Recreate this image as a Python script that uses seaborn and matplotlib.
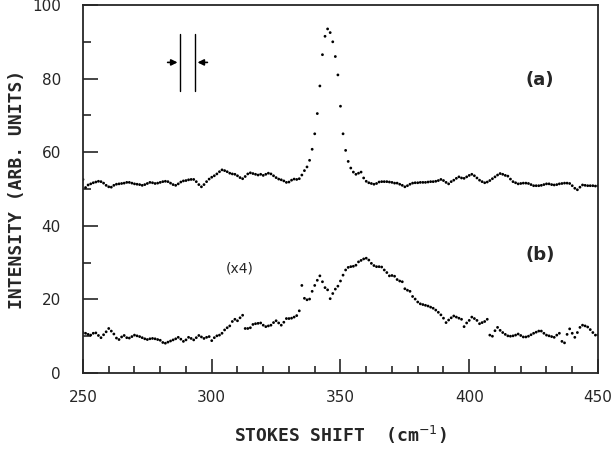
import numpy as np
import pandas as pd
import seaborn as sns
import matplotlib.pyplot as plt
from matplotlib.ticker import MultipleLocator

# Raman spectra, one reading per cm^-1 from 250 to 450
shift = np.arange(250, 451)

# trace (a)
intensity_a = [
    52.6, 50.4, 51.1, 51.4, 51.7, 51.9, 52.1, 52.0, 51.6, 51.0,
    50.6, 50.5, 51.0, 51.3, 51.4, 51.5, 51.6, 51.8, 51.8, 51.6,
    51.4, 51.3, 51.2, 51.0, 51.2, 51.5, 51.8, 51.7, 51.5, 51.6,
    51.8, 52.0, 52.1, 52.0, 51.6, 51.2, 51.0, 51.4, 51.9, 52.2,
    52.3, 52.5, 52.6, 52.6, 52.0, 51.2, 50.6, 51.2, 52.0, 52.7,
    53.2, 53.6, 54.1, 54.7, 55.2, 55.0, 54.7, 54.3, 54.1, 54.0,
    53.6, 53.1, 52.8, 53.4, 54.1, 54.4, 54.2, 54.0, 53.8, 54.0,
    53.7, 54.0, 54.3, 54.1, 53.6, 53.1, 52.7, 52.5, 52.2, 51.8,
    51.9, 52.4, 52.7, 52.6, 52.8, 53.8, 55.0, 56.0, 57.8, 60.8,
    65.0, 70.5, 78.0, 86.5, 91.5, 93.5, 92.5, 90.0, 86.0, 81.0,
    72.5, 65.0, 60.5, 57.5, 55.7, 54.6, 54.0, 54.3, 54.6, 53.0,
    52.1, 51.7, 51.5, 51.3, 51.5, 51.9, 52.0, 52.0, 52.0, 51.9,
    51.8, 51.6, 51.6, 51.3, 51.0, 50.6, 50.9, 51.3, 51.6, 51.7,
    51.7, 51.8, 51.8, 51.8, 51.9, 52.0, 52.0, 52.1, 52.3, 52.6,
    52.3, 51.8, 51.4, 52.0, 52.4, 52.9, 53.3, 53.0, 52.9, 53.3,
    53.7, 54.0, 53.6, 53.0, 52.4, 52.0, 51.7, 51.9, 52.3, 52.8,
    53.3, 53.8, 54.2, 54.0, 53.7, 53.5, 52.7, 52.0, 51.7, 51.4,
    51.5, 51.6, 51.6, 51.5, 51.2, 50.9, 50.9, 50.9, 51.0, 51.2,
    51.4, 51.4, 51.2, 51.1, 51.2, 51.4, 51.5, 51.6, 51.6, 51.5,
    50.9, 50.2, 49.8, 50.5, 51.1, 51.0, 50.9, 50.9, 50.9, 50.8,
    50.9,
]

# trace (b), already multiplied by 4
intensity_b = [
    11.0, 10.8, 10.5, 10.3, 10.8, 10.9, 10.2, 9.6, 10.4, 11.2,
    12.1, 11.4, 10.6, 9.5, 9.1, 9.8, 10.2, 9.6, 9.5, 9.9,
    10.3, 10.1, 9.9, 9.6, 9.3, 9.1, 9.3, 9.4, 9.3, 9.1,
    8.9, 8.3, 8.1, 8.4, 8.7, 9.0, 9.3, 9.7, 9.2, 8.6,
    9.0, 9.7, 9.4, 9.0, 9.6, 10.2, 9.8, 9.4, 9.7, 9.9,
    8.8, 9.6, 10.1, 10.3, 10.8, 11.7, 12.3, 12.8, 14.0, 14.6,
    14.2, 15.0, 15.7, 12.1, 12.1, 12.3, 13.2, 13.4, 13.5, 13.6,
    13.0, 12.6, 12.8, 13.0, 13.7, 14.2, 13.6, 13.0, 13.8, 14.8,
    14.8, 14.9, 15.2, 15.6, 16.9, 23.8, 20.3, 19.9, 20.1, 22.2,
    23.8, 25.2, 26.4, 24.8, 23.2, 22.6, 20.2, 21.6, 22.8, 23.6,
    25.0, 26.6, 28.0, 28.7, 28.9, 29.0, 29.3, 30.2, 30.6, 31.0,
    31.2, 30.7, 29.8, 29.2, 28.9, 28.9, 28.8, 28.0, 27.3, 26.4,
    26.5, 26.3, 25.4, 25.0, 24.8, 22.9, 22.5, 22.2, 20.8, 20.1,
    19.3, 18.8, 18.6, 18.4, 18.2, 17.9, 17.6, 17.1, 16.5, 15.8,
    14.9, 13.7, 14.4, 15.0, 15.5, 15.2, 14.9, 14.6, 12.6, 13.6,
    14.3, 15.2, 14.8, 14.3, 13.4, 13.7, 14.0, 14.6, 10.3, 10.0,
    11.5, 12.4, 11.6, 11.0, 10.5, 10.1, 10.0, 10.1, 10.3, 10.6,
    10.2, 9.8, 9.8, 10.0, 10.4, 10.8, 11.1, 11.4, 11.4, 10.8,
    10.3, 10.1, 9.9, 9.7, 10.3, 10.8, 8.6, 8.2, 10.5, 12.0,
    10.8, 9.7, 11.0, 12.4, 13.0, 12.8, 12.5, 11.8, 11.0, 10.3,
    10.4,
]

x_ticks = [250, 300, 350, 400, 450]
y_ticks = [0, 20, 40, 60, 80, 100]

sns.set_style('ticks')
plt.rcParams['font.family'] = ['DejaVu Sans']

df = pd.DataFrame({
    'shift': np.concatenate([shift, shift]),
    'intensity': intensity_a + intensity_b,
    'trace': ['a'] * len(intensity_a) + ['b'] * len(intensity_b),
})

fig = plt.figure(figsize=(6.11, 4.51), dpi=100)
ax = fig.add_axes([0.1358, 0.1729, 0.8429, 0.816])

sns.scatterplot(data=df, x='shift', y='intensity', hue='trace',
                palette=['black', 'black'], s=4, linewidth=0,
                legend=False, ax=ax)

ax.set_xlim(250, 450)
ax.set_ylim(0, 100)
ax.set_xticks(x_ticks)
ax.set_yticks(y_ticks)
ax.xaxis.set_minor_locator(MultipleLocator(10))
ax.yaxis.set_minor_locator(MultipleLocator(10))
ax.tick_params(which='both', direction='in', top=False, right=False,
               width=1.2, labelsize=11)
ax.tick_params(axis='x', which='major', length=10, pad=12)
ax.tick_params(axis='x', which='minor', length=5)
ax.tick_params(axis='y', which='major', length=11, pad=16)
ax.tick_params(axis='y', which='minor', length=6)
for sp in ax.spines.values():
    sp.set_linewidth(1.3)

ax.set_xlabel('STOKES SHIFT  (cm$^{-1}$)', family='DejaVu Sans Mono',
              fontweight='bold', fontsize=13, va='center')
ax.set_ylabel('INTENSITY (ARB. UNITS)', family='DejaVu Sans Mono',
              fontweight='bold', fontsize=13, va='center')
ax.xaxis.set_label_coords(0.5, -0.168)
ax.yaxis.set_label_coords(-0.128, 0.5)

# labels for the traces
ax.text(427.5, 79.6, '(a)', fontsize=13, fontweight='bold', ha='center', va='center')
ax.text(427.5, 32.1, '(b)', fontsize=13, fontweight='bold', ha='center', va='center')
ax.text(311, 28.5, '(x4)', fontsize=10, ha='center', va='center')

# resolution marker
ax.plot([287.8, 287.8], [76.6, 92.1], color='black', lw=1)
ax.plot([293.4, 293.4], [76.6, 92.1], color='black', lw=1)
ax.annotate('', xy=(287.8, 84.4), xytext=(281.8, 84.4),
            arrowprops=dict(arrowstyle='-|>', color='black', lw=1.2, mutation_scale=9))
ax.annotate('', xy=(293.4, 84.4), xytext=(299.4, 84.4),
            arrowprops=dict(arrowstyle='-|>', color='black', lw=1.2, mutation_scale=9))

fig.savefig('out.png', dpi=100)
